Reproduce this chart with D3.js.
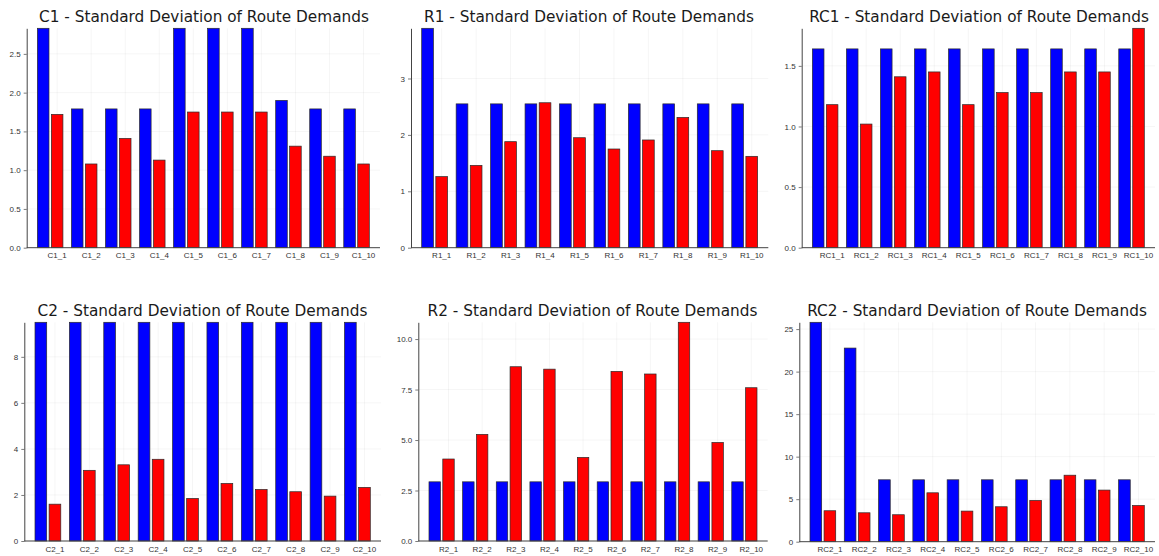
<!DOCTYPE html>
<html>
<head>
<meta charset="utf-8">
<script src="https://cdn.jsdelivr.net/npm/d3@7"></script>
<style>
  body { margin: 0; background: #fff; }
  svg { display: block; font-family: "DejaVu Sans", sans-serif; }
  .title { font-size: 15.3px; fill: #1a1a1a; }
  .tick text { font-size: 8px; fill: #333; }
</style>
</head>
<body>
<div class="canvas"></div>
<script>
// categories and values
const c1Cats = ["C1_1", "C1_2", "C1_3", "C1_4", "C1_5", "C1_6", "C1_7", "C1_8", "C1_9", "C1_10"];
const c1Blue = [2.83, 1.79, 1.79, 1.79, 2.83, 2.83, 2.83, 1.90, 1.79, 1.79];
const c1Red = [1.72, 1.08, 1.41, 1.13, 1.75, 1.75, 1.75, 1.31, 1.18, 1.08];

const r1Cats = ["R1_1", "R1_2", "R1_3", "R1_4", "R1_5", "R1_6", "R1_7", "R1_8", "R1_9", "R1_10"];
const r1Blue = [3.89, 2.55, 2.55, 2.55, 2.55, 2.55, 2.55, 2.55, 2.55, 2.55];
const r1Red = [1.26, 1.46, 1.88, 2.57, 1.95, 1.75, 1.91, 2.31, 1.72, 1.62];

const rc1Cats = ["RC1_1", "RC1_2", "RC1_3", "RC1_4", "RC1_5", "RC1_6", "RC1_7", "RC1_8", "RC1_9", "RC1_10"];
const rc1Blue = [1.64, 1.64, 1.64, 1.64, 1.64, 1.64, 1.64, 1.64, 1.64, 1.64];
const rc1Red = [1.18, 1.02, 1.41, 1.45, 1.18, 1.28, 1.28, 1.45, 1.45, 1.81];

const c2Cats = ["C2_1", "C2_2", "C2_3", "C2_4", "C2_5", "C2_6", "C2_7", "C2_8", "C2_9", "C2_10"];
const c2Blue = [9.5, 9.5, 9.5, 9.5, 9.5, 9.5, 9.5, 9.5, 9.5, 9.5];
const c2Red = [1.60, 3.07, 3.31, 3.55, 1.85, 2.50, 2.24, 2.14, 1.95, 2.33];

const r2Cats = ["R2_1", "R2_2", "R2_3", "R2_4", "R2_5", "R2_6", "R2_7", "R2_8", "R2_9", "R2_10"];
const r2Blue = [2.93, 2.93, 2.93, 2.93, 2.93, 2.93, 2.93, 2.93, 2.93, 2.93];
const r2Red = [4.06, 5.28, 8.63, 8.51, 4.14, 8.40, 8.27, 10.83, 4.88, 7.59];

const rc2Cats = ["RC2_1", "RC2_2", "RC2_3", "RC2_4", "RC2_5", "RC2_6", "RC2_7", "RC2_8", "RC2_9", "RC2_10"];
const rc2Blue = [25.8, 22.77, 7.28, 7.28, 7.28, 7.28, 7.28, 7.28, 7.28, 7.28];
const rc2Red = [3.64, 3.40, 3.17, 5.75, 3.60, 4.11, 4.85, 7.82, 6.07, 4.26];

// y tick values per panel
const c1Ticks = [0, 0.5, 1.0, 1.5, 2.0, 2.5];
const r1Ticks = [0, 1, 2, 3];
const rc1Ticks = [0, 0.5, 1.0, 1.5];
const c2Ticks = [0, 2, 4, 6, 8];
const r2Ticks = [0, 2.5, 5.0, 7.5, 10.0];
const rc2Ticks = [0, 5, 10, 15, 20, 25];

const w = 1159;
const h = 556;

const svg = d3.select(".canvas").append("svg").attr("width", w).attr("height", h);

// panel frames (plot area edges, title anchor)
const panels = [
  { name: "C1", cats: c1Cats, blue: c1Blue, red: c1Red, ticks: c1Ticks, fmt: ".1f",
    left: 26.7, right: 380, top: 28.3, bottom: 247.7, tx: 204, ty: 22 },
  { name: "R1", cats: r1Cats, blue: r1Blue, red: r1Red, ticks: r1Ticks, fmt: "d",
    left: 411, right: 768.3, top: 28.3, bottom: 247.7, tx: 589, ty: 22 },
  { name: "RC1", cats: rc1Cats, blue: rc1Blue, red: rc1Red, ticks: rc1Ticks, fmt: ".1f",
    left: 801.7, right: 1155, top: 28.3, bottom: 247.7, tx: 979, ty: 22 },
  { name: "C2", cats: c2Cats, blue: c2Blue, red: c2Red, ticks: c2Ticks, fmt: "d",
    left: 24.3, right: 381, top: 322.3, bottom: 541, tx: 202.5, ty: 315.5 },
  { name: "R2", cats: r2Cats, blue: r2Blue, red: r2Red, ticks: r2Ticks, fmt: ".1f",
    left: 418.3, right: 767.7, top: 322.3, bottom: 541, tx: 592.5, ty: 316 },
  { name: "RC2", cats: rc2Cats, blue: rc2Blue, red: rc2Red, ticks: rc2Ticks, fmt: "d",
    left: 799.3, right: 1155, top: 322.3, bottom: 541.7, tx: 977, ty: 315.7 }
];

const series = ["blue", "red"];
const colors = { blue: "#0000ff", red: "#ff0000" };

panels.forEach(p => {
  const pw = p.right - p.left;
  const ph = p.bottom - p.top;
  const g = svg.append("g").attr("transform", `translate(${p.left}, ${p.top})`);

  const maxVal = d3.max(p.blue.concat(p.red));
  const y = d3.scaleLinear().domain([0, maxVal]).range([ph, 0]);

  const x = d3.scaleBand().domain(p.cats).range([10.7, pw - 10.7]).paddingInner(0.25).paddingOuter(0);
  const xSub = d3.scaleBand().domain(series).range([0, x.bandwidth()]).paddingInner(0.17);

  // label sits under the red bar
  const labelShift = xSub("red") + xSub.bandwidth() / 2 - x.bandwidth() / 2;

  // grid
  g.append("g")
    .selectAll("line.hg")
    .data(p.ticks)
    .join("line")
    .attr("x1", 0).attr("x2", pw)
    .attr("y1", d => y(d)).attr("y2", d => y(d))
    .attr("stroke", "#000").attr("stroke-opacity", 0.07).attr("stroke-width", 0.6);
  g.append("g")
    .selectAll("line.vg")
    .data(p.cats)
    .join("line")
    .attr("x1", d => x(d) + x.bandwidth() / 2 + labelShift)
    .attr("x2", d => x(d) + x.bandwidth() / 2 + labelShift)
    .attr("y1", 0).attr("y2", ph)
    .attr("stroke", "#000").attr("stroke-opacity", 0.07).attr("stroke-width", 0.6);

  // bars
  const rows = p.cats.map((c, i) => ({ cat: c, blue: p.blue[i], red: p.red[i] }));
  g.append("g")
    .selectAll("g")
    .data(rows)
    .join("g")
    .attr("transform", d => `translate(${x(d.cat)}, 0)`)
    .selectAll("rect")
    .data(d => series.map(s => ({ key: s, value: d[s] })))
    .join("rect")
    .attr("x", d => xSub(d.key))
    .attr("y", d => y(d.value))
    .attr("width", xSub.bandwidth())
    .attr("height", d => ph - y(d.value))
    .attr("fill", d => colors[d.key])
    .attr("stroke", "#2a2a2a")
    .attr("stroke-width", 0.7);

  // y-axis
  const yAxis = d3.axisLeft(y).tickValues(p.ticks).tickFormat(d3.format(p.fmt)).tickSizeInner(3).tickSizeOuter(0).tickPadding(3);
  const ya = g.append("g").call(yAxis);
  ya.select(".domain").attr("stroke", "#444").attr("stroke-width", 1);
  ya.selectAll(".tick line").attr("stroke", "#444").attr("stroke-width", 0.7);

  // x-axis
  const xAxis = d3.axisBottom(x).tickSize(0).tickPadding(5);
  const xa = g.append("g").attr("transform", `translate(0, ${ph})`).call(xAxis);
  xa.select(".domain").attr("stroke", "#444").attr("stroke-width", 1).attr("d", `M0,0H${pw}`);
  xa.selectAll(".tick text").attr("x", labelShift);

  // title
  svg.append("text")
    .attr("class", "title")
    .attr("x", p.tx)
    .attr("y", p.ty)
    .attr("text-anchor", "middle")
    .text(`${p.name} - Standard Deviation of Route Demands`);
});
</script>
</body>
</html>
